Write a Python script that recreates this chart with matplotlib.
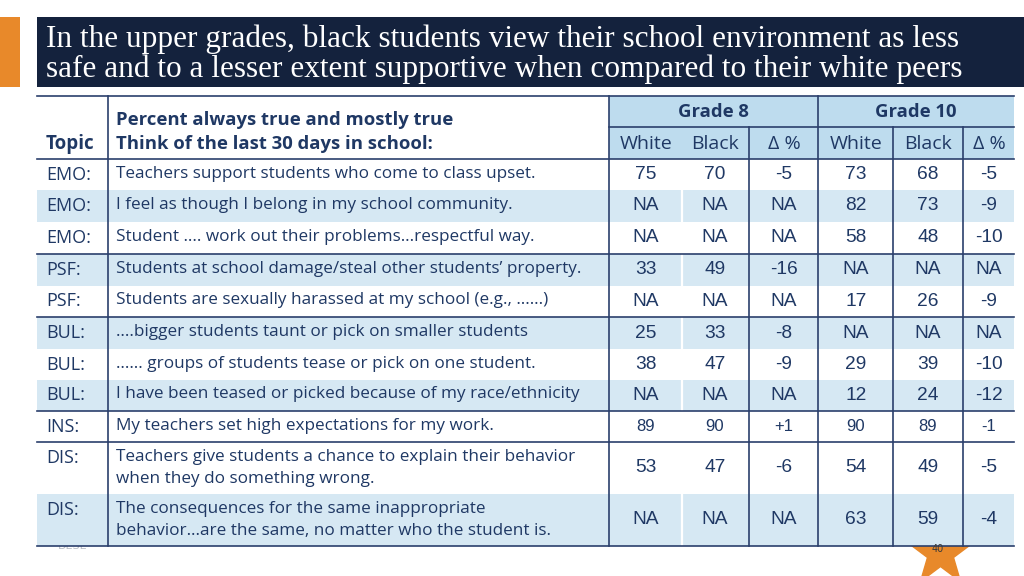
import matplotlib.pyplot as plt
from matplotlib.patches import Rectangle

# table content
title_lines = ['In the upper grades, black students view their school environment as less',
               'safe and to a lesser extent supportive when compared to their white peers']
topics = ['EMO:', 'EMO:', 'EMO:', 'PSF:', 'PSF:', 'BUL:', 'BUL:', 'BUL:', 'INS:', 'DIS:', 'DIS:']
questions = [
    'Teachers support students who come to class upset.',
    'I feel as though I belong in my school community.',
    'Student \u2026. work out their problems\u2026respectful way.',
    'Students at school damage/steal other students\u2019 property.',
    'Students are sexually harassed at my school (e.g., \u2026\u2026)',
    '\u2026.bigger students taunt or pick on smaller students',
    '\u2026\u2026 groups of students tease or pick on one student.',
    'I have been teased or picked because of my race/ethnicity',
    'My teachers set high expectations for my work.',
    'Teachers give students a chance to explain their behavior\nwhen they do something wrong.',
    'The consequences for the same inappropriate\nbehavior\u2026are the same, no matter who the student is.',
]
g8_white = [75, None, None, 33, None, 25, 38, None, 89, 53, None]
g8_black = [70, None, None, 49, None, 33, 47, None, 90, 47, None]
g8_delta = [-5, None, None, -16, None, -8, -9, None, 1, -6, None]
g10_white = [73, 82, 58, None, 17, None, 29, 12, 90, 54, 63]
g10_black = [68, 73, 48, None, 26, None, 39, 24, 89, 49, 59]
g10_delta = [-5, -9, -10, None, -9, None, -10, -12, -1, -5, -4]
shaded = [False, True, False, True, False, True, False, True, False, False, True]

NAVY = '#1F3864'
LINE = '#2B3F6C'
HEAD_FILL = '#BEDCEE'
ROW_FILL = '#D6E8F3'


def fmt(v, signed=False):
    if v is None:
        return 'NA'
    if signed and v > 0:
        return f'+{v}'
    return str(v)


fig = plt.figure(figsize=(10.24, 5.76), dpi=100)
ax = fig.add_axes([0, 0, 1, 1])
ax.set_xlim(0, 1024)
ax.set_ylim(576, 0)
ax.axis('off')

# title bar
ax.add_patch(Rectangle((0, 17), 20, 70, color='#E8892A', lw=0))
ax.add_patch(Rectangle((37, 17), 987, 70, color='#14223D', lw=0))
for ty, line in zip([39, 69], title_lines):
    ax.text(46, ty, line, color='white', fontsize=22.5, family='Liberation Serif',
            va='center', ha='left')

# footer bits behind the table
ax.text(58, 546, 'DESE', color='#B8BCC4', fontsize=8, va='center', zorder=0)
ax.plot([940], [553], marker='*', markersize=50, color='#E8892A', zorder=0)
ax.text(938, 549, '40', color='#3A3A3A', fontsize=7, ha='center', va='center', zorder=5)

# geometry
x_left, x_topic, x_q, x_g8, x_g8d, x_g10, x_g10b, x_g10d, x_right = 37, 108, 609, 682, 749, 818, 893, 963, 1014
y_top, y_grade, y_head = 96, 127, 159
row_edges = [159, 190, 222, 254, 286, 317, 349, 380, 411, 442, 494, 546]
col_centers = [646, 715, 784, 856, 928, 989]

ax.add_patch(Rectangle((x_q, y_top), x_right - x_q, y_head - y_top, color=HEAD_FILL, lw=0, zorder=1))
ax.add_patch(Rectangle((x_left, y_top), x_q - x_left, y_head - y_top, color='white', lw=0, zorder=1))
for i, s in enumerate(shaded):
    y0, y1 = row_edges[i], row_edges[i + 1]
    ax.add_patch(Rectangle((x_left, y0), x_right - x_left, y1 - y0,
                           color=ROW_FILL if s else 'white', lw=0, zorder=1))
    if s:
        ax.plot([x_g8, x_g8], [y0, y1], color='white', lw=1.6, zorder=2)

# grid lines
lw = 1.2
for y in [y_top, y_head, 254, 317, 411, 442, 546]:
    ax.plot([x_left, x_right], [y, y], color=LINE, lw=lw, zorder=3)
ax.plot([x_q, x_right], [y_grade, y_grade], color=LINE, lw=lw, zorder=3)
for x in [x_topic, x_q, x_g10]:
    ax.plot([x, x], [y_top, 546], color=LINE, lw=lw, zorder=3)
for x in [x_g8d, x_g10b, x_g10d]:
    ax.plot([x, x], [y_grade, 546], color=LINE, lw=lw, zorder=3)

# header text
sans = 'Open Sans'
ax.text(46, 144, 'Topic', fontsize=13.5, fontweight='bold', family=sans, color=NAVY, va='center', zorder=4)
ax.text(116, 120, 'Percent always true and mostly true', fontsize=13.3, fontweight='bold',
        family=sans, color=NAVY, va='center', zorder=4)
ax.text(116, 144, 'Think of the last 30 days in school:', fontsize=13.3, fontweight='bold',
        family=sans, color=NAVY, va='center', zorder=4)
ax.text(713, 112, 'Grade 8', fontsize=13.3, fontweight='bold', family=sans, color=NAVY,
        ha='center', va='center', zorder=4)
ax.text(916, 112, 'Grade 10', fontsize=13.3, fontweight='bold', family=sans, color=NAVY,
        ha='center', va='center', zorder=4)
for cx, lab in zip(col_centers, ['White', 'Black', '\u0394 %', 'White', 'Black', '\u0394 %']):
    ax.text(cx, 144, lab, fontsize=14, family=sans, color=NAVY, ha='center', va='center', zorder=4)

# body
columns = [(g8_white, False), (g8_black, False), (g8_delta, True),
           (g10_white, False), (g10_black, False), (g10_delta, True)]
for i in range(len(topics)):
    y0, y1 = row_edges[i], row_edges[i + 1]
    yc = (y0 + y1) / 2
    multi = '\n' in questions[i]
    ty = y0 + 16 if multi else yc
    ax.text(46, ty, topics[i], fontsize=13, family=sans, color=NAVY, va='center', zorder=4)
    ax.text(116, yc if multi else yc - 1, questions[i], fontsize=12.3, family=sans, color=NAVY,
            va='center', linespacing=1.5, zorder=4)
    size = 12 if topics[i] == 'INS:' else 13.8
    for cx, (vals, signed) in zip(col_centers, columns):
        ax.text(cx, yc, fmt(vals[i], signed), fontsize=size, family='Liberation Sans',
                color=NAVY, ha='center', va='center', zorder=4)

fig.savefig('out.png', dpi=100)
